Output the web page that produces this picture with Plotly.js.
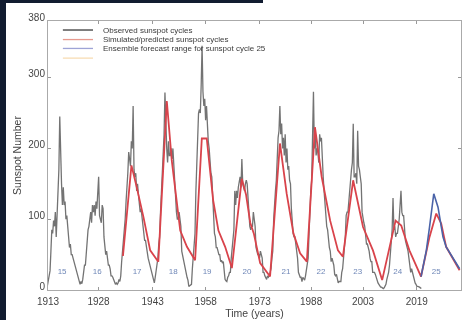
<!DOCTYPE html>
<html>
<head>
<meta charset="utf-8">
<script src="https://cdn.plot.ly/plotly-3.0.1.min.js"></script>
<style>
  html, body { margin: 0; padding: 0; background: #ffffff; }
  #wrap { position: relative; width: 466px; height: 320px; overflow: hidden; }
  #chart { position: absolute; left: 0; top: 0; width: 466px; height: 320px; filter: blur(0.35px); }
  .edge { position: absolute; background: #111c30; z-index: 5; }
</style>
</head>
<body>
<div id="wrap">
  <div id="chart"></div>
  <div class="edge" style="left:0;top:0;width:6px;height:320px;"></div>
  <div class="edge" style="left:0;top:0;width:263px;height:3px;"></div>
</div>
<script>
// ---- Observed sunspot number, quarterly estimates, starting 1914 ----
const obsStartYear = 1914;
const observed = [
  6,14,18,27,        // 1914
  55,85,80,98,       // 1915
  90,110,75,105,     // 1916
  140,170,245,180,   // 1917
  150,120,145,120,   // 1918
  125,100,105,90,    // 1919
  75,60,65,50,       // 1920
  50,45,40,38,       // 1921
  30,25,20,18,       // 1922
  10,8,12,9,         // 1923
  15,25,35,35,       // 1924
  55,65,85,90,       // 1925
  100,110,95,120,    // 1926
  110,120,105,125,   // 1927
  115,140,160,105,   // 1928
  100,95,120,115,    // 1929
  75,60,50,55,       // 1930
  40,35,35,30,       // 1931
  20,20,18,15,       // 1932
  10,8,10,8,         // 1933
  10,15,12,20,       // 1934
  40,55,70,75,       // 1935
  100,125,140,165,   // 1936
  195,180,175,210,   // 1937
  200,260,170,160,   // 1938
  165,140,150,135,   // 1939
  120,110,115,105,   // 1940
  90,85,70,70,       // 1941
  60,55,45,40,       // 1942
  35,28,25,20,       // 1943
  12,10,18,25,       // 1944
  35,45,65,75,       // 1945
  110,140,175,190,   // 1946
  220,279,220,200,   // 1947
  180,210,190,190,   // 1948
  200,185,200,175,   // 1949
  140,125,110,100,   // 1950
  100,110,95,90,     // 1951
  55,48,40,35,       // 1952
  28,20,18,14,       // 1953
  5,6,8,8,           // 1954
  30,45,60,80,       // 1955
  140,180,230,250,   // 1956
  255,250,290,345,   // 1957
  280,260,270,240,   // 1958
  260,230,210,200,   // 1959
  175,165,160,135,   // 1960
  90,80,75,60,       // 1961
  60,55,50,50,       // 1962
  40,42,38,40,       // 1963
  20,15,13,12,       // 1964
  18,20,25,25,       // 1965
  45,60,75,85,       // 1966
  140,120,140,130,   // 1967
  145,155,160,145,   // 1968
  185,150,145,140,   // 1969
  150,155,150,135,   // 1970
  110,90,85,90,      // 1971
  90,110,95,90,      // 1972
  60,55,50,50,       // 1973
  45,55,50,45,       // 1974
  25,25,20,18,       // 1975
  15,20,18,20,       // 1976
  25,30,45,55,       // 1977
  100,130,140,155,   // 1978
  200,215,225,260,   // 1979
  220,235,200,215,   // 1980
  190,220,180,200,   // 1981
  170,175,155,150,   // 1982
  115,95,80,75,      // 1983
  75,65,55,45,       // 1984
  25,22,18,18,       // 1985
  12,18,15,14,       // 1986
  20,30,40,45,       // 1987
  80,120,140,155,    // 1988
  210,280,200,220,   // 1989
  190,200,195,180,   // 1990
  220,210,215,170,   // 1991
  160,140,120,110,   // 1992
  90,85,70,60,       // 1993
  55,40,45,40,       // 1994
  35,22,20,22,       // 1995
  12,10,12,12,       // 1996
  12,25,30,45,       // 1997
  60,75,105,110,     // 1998
  110,130,145,155,   // 1999
  170,180,235,160,   // 2000
  160,165,150,225,   // 2001
  175,170,160,150,   // 2002
  110,100,95,90,     // 2003
  70,65,65,60,       // 2004
  55,45,40,40,       // 2005
  25,25,25,22,       // 2006
  18,12,10,8,        // 2007
  5,4,4,3,           // 2008
  2,3,5,8,           // 2009
  15,20,25,35,       // 2010
  50,70,85,130,      // 2011
  85,90,75,80,       // 2012
  80,90,100,120,     // 2013
  140,110,105,105,   // 2014
  85,70,65,60,       // 2015
  55,45,35,25,       // 2016
  30,25,20,12,       // 2017
  10,8,5,5,          // 2018
  5,4,3,2            // 2019
];
const observedYears = observed.map((v, i) => obsStartYear + 0.125 + i * 0.25);

// ---- Simulated / predicted sunspot cycles (red) ----
const simYears = [1935.5,1937.9,1939.4,1941.3,1943.2,1945.5,1947.9,1949.3,1951.7,1953.6,1955.9,
  1957.8,1959.2,1961.0,1962.5,1964.4,1966.3,1969.1,1970.3,1971.5,1972.5,1974.3,1977.1,
  1979.9,1981.8,1983.7,1985.6,1987.5,1989.8,1991.7,1994.1,1996.3,1997.7,2000.6,2003.4,
  2006.2,2008.8,2012.6,2014.2,2016.5,2019.8,2022.2,2024.1,2025.5,2026.9,2030.7];
const simValues = [48,176,145,103,56,40,267,183,84,61,42,
  214,214,127,84,61,31,157,135,95,80,38,19,
  207,136,80,52,40,230,160,98,56,47,155,89,
  56,14,98,91,56,19,75,108,94,61,28];

// ---- Ensemble forecast for cycle 25 (blue) ----
const ensYears = [2019.8,2021.3,2022.2,2023.4,2024.6,2026.0,2026.9,2030.7];
const ensValues = [19,56,89,136,117,75,61,30];

// ---- Cycle number labels ----
const cycleNumbers = ['15','16','17','18','19','20','21','22','23','24','25'];
const cycleLabelYears = [1918.3,1928.2,1939.5,1949.7,1959.3,1970.6,1981.6,1991.5,2001.9,2013.2,2024.1];
const cycleLabelLevel = [25,25,25,25,25,25,25,25,25,25,25];

// ---- Axis ticks ----
const xTickVals = [1914.3,1928.6,1943.9,1958.9,1974.2,1988.7,2003.4,2018.6,2031.1];
const xTickText = ['1913','1928','1943','1958','1973','1988','2003','2019','2034'];
const yTickVals = [0,100,200,300,380];

// ---- Legend ----
const legendNames = ['Observed sunspot cycles','Simulated/predicted sunspot cycles','Ensemble forecast range for sunspot cycle 25',''];
const legendColors = ['#3a3a3a','#e79a8e','#9ea3d6','#f7dcb4'];

const traces = [
  { x: observedYears, y: observed, type: 'scatter', mode: 'lines',
    line: { color: 'rgba(80,80,80,0.8)', width: 1.3 }, hoverinfo: 'skip' },
  { x: simYears, y: simValues, type: 'scatter', mode: 'lines',
    line: { color: '#d9434b', width: 1.8 } },
  { x: ensYears, y: ensValues, type: 'scatter', mode: 'lines',
    line: { color: '#4a63a8', width: 1.6 } },
  { x: cycleLabelYears, y: cycleLabelLevel, type: 'scatter', mode: 'text',
    text: cycleNumbers, textfont: { family: 'Liberation Sans, Arial, sans-serif', size: 8, color: '#7088b8' } }
];

const rowY = [0.9665, 0.931, 0.898, 0.862];
const shapes = [];
const annotations = [];
legendNames.forEach((name, i) => {
  shapes.push({ type: 'line', xref: 'paper', yref: 'paper', x0: 0.036, x1: 0.109, y0: rowY[i], y1: rowY[i],
    line: { color: legendColors[i], width: 1.3 } });
  if (name) annotations.push({ xref: 'paper', yref: 'paper', x: 0.128, y: rowY[i], xanchor: 'left', yanchor: 'middle',
    text: name, showarrow: false, font: { family: 'Liberation Sans, Arial, sans-serif', size: 8, color: '#3a3a3a' } });
});

const layout = {
  width: 466, height: 320,
  margin: { l: 48, r: 5, t: 21, b: 30, pad: 0 },
  paper_bgcolor: '#ffffff', plot_bgcolor: '#ffffff',
  showlegend: false,
  font: { family: 'Liberation Sans, Arial, sans-serif', color: '#444' },
  xaxis: {
    range: [1914.3, 2031.1], tickmode: 'array', tickvals: xTickVals, ticktext: xTickText,
    ticks: 'inside', ticklen: 3, tickcolor: '#999', showgrid: false, zeroline: false,
    showline: true, linecolor: '#aaa', linewidth: 1, mirror: 'ticks',
    ticklabelstandoff: 2,
    tickfont: { size: 10, color: '#444' },
    title: { text: 'Time (years)', font: { size: 10.5, color: '#444' }, standoff: 0 }
  },
  yaxis: {
    range: [0, 380], tickmode: 'array', tickvals: yTickVals,
    ticks: 'inside', ticklen: 3, tickcolor: '#999', showgrid: false, zeroline: false,
    showline: true, linecolor: '#aaa', linewidth: 1, mirror: 'ticks',
    ticklabelshift: -4,
    tickfont: { size: 10, color: '#444' },
    title: { text: 'Sunspot Number', font: { size: 10.5, color: '#444' }, standoff: 4 }
  },
  shapes: shapes,
  annotations: annotations
};

Plotly.newPlot('chart', traces, layout, { displayModeBar: false, staticPlot: true });
</script>
</body>
</html>
